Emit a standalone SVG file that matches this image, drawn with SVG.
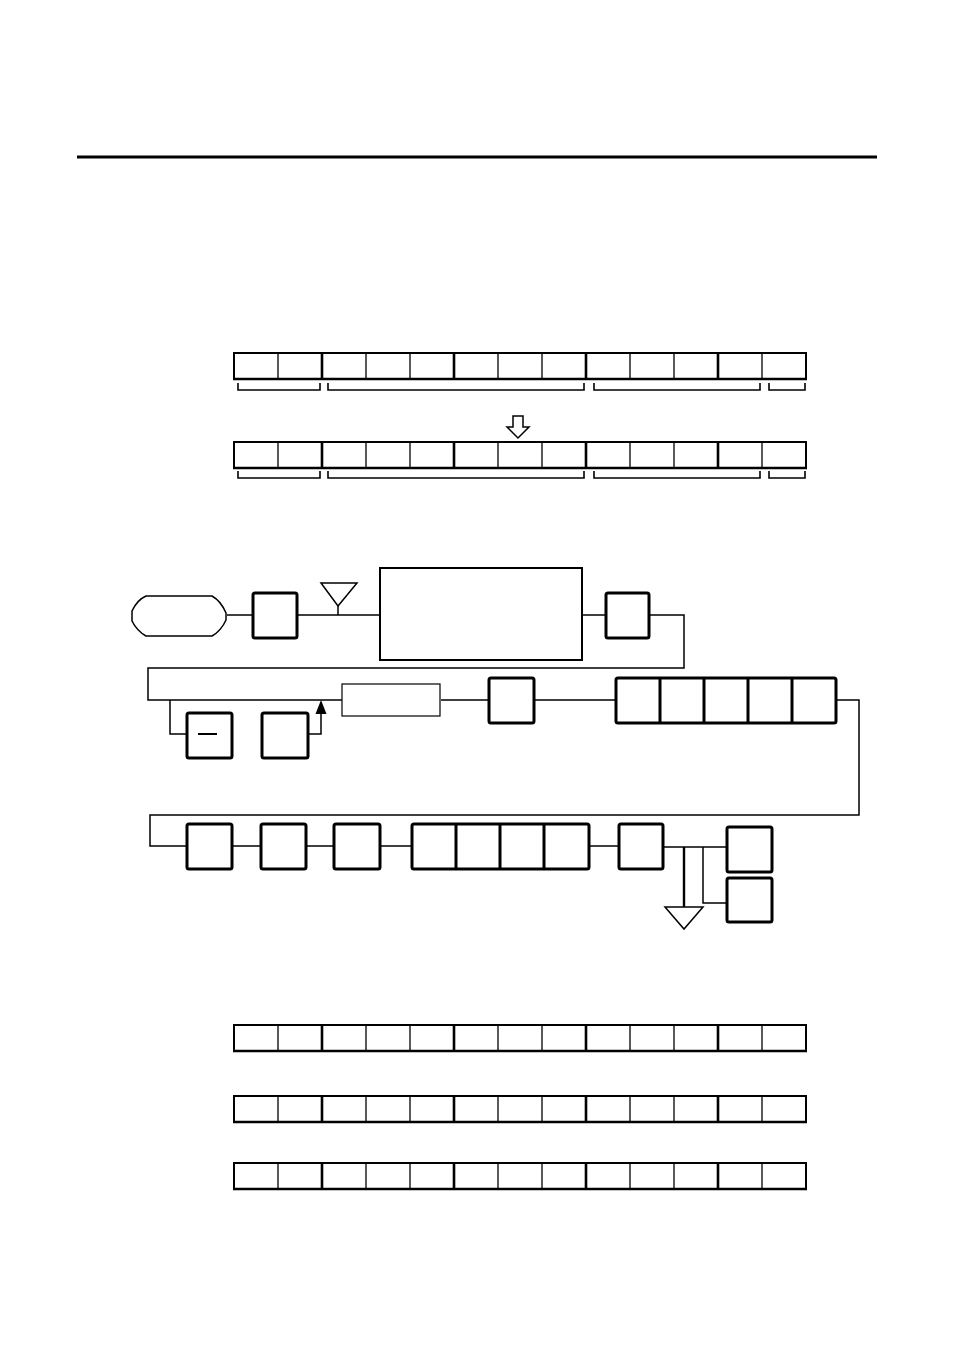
<svg xmlns="http://www.w3.org/2000/svg" width="954" height="1351" viewBox="0 0 954 1351">
<style>
.bg{fill:#fff}
.reg{fill:#fff;stroke:#000;stroke-width:2}
.thin{stroke:#000;stroke-width:1.3;fill:none}
.thick{stroke:#000;stroke-width:2.6;fill:none}
.brk{stroke:#000;stroke-width:1.6;fill:none}
.box{fill:#fff;stroke:#000;stroke-width:3}
.wire{stroke:#000;stroke-width:1.5;fill:none}
.hollow{fill:#fff;stroke:#000;stroke-width:1.5}
</style>
<defs>
<g id="row">
<rect class="reg" x="234" y="0" width="572" height="26"/>
<line class="thick" x1="233" y1="26" x2="807" y2="26"/>
<path class="thin" d="M278,0V26M366,0V26M410,0V26M498,0V26M542,0V26M630,0V26M674,0V26M762,0V26"/>
<path class="thick" d="M322,0V26M454,0V26M586,0V26M718,0V26"/>
</g>
<g id="brackets">
<path class="brk" d="M238,0V7H320V0M328,0V7H584V0M594,0V7H760V0M769,0V7H805V0"/>
</g>
<marker id="up" markerWidth="10" markerHeight="10" refX="5" refY="0" orient="auto" markerUnits="userSpaceOnUse" viewBox="0 0 10 10"/>
</defs>
<rect class="bg" width="954" height="1351"/>
<line id="rule" x1="77" y1="157" x2="877" y2="157" stroke="#000" stroke-width="3"/>

<g id="reg-top-1"><use href="#row" y="353"/><use href="#brackets" y="383"/></g>
<g id="shift-arrow"><path class="hollow" d="M513,416H523V427H529L518,438L507,427H513Z"/></g>
<g id="reg-top-2"><use href="#row" y="442"/><use href="#brackets" y="471"/></g>

<g id="connectors">
<path class="wire" d="M227,615H253M297,615H380M582,615H606"/>
<path class="wire" d="M649,615H684V668H148V700H342"/>
<path class="wire" d="M170,700V734H187"/>
<path class="wire" d="M308,734H321V713"/>
<path d="M315.5,714L321,700L326.5,714Z" fill="#000"/>
<path class="wire" d="M441,700H489M534,700H616"/>
<path class="wire" d="M836,700H859V815H150V846H187"/>
<path class="wire" d="M232,846H261M306,846H334M380,846H412M589,846H619"/>
<path class="wire" d="M663,847H727M703,847V903H727"/>
<path d="M684,847V907" stroke="#000" stroke-width="2.4"/>
<path class="wire" d="M338,606V615"/>
</g>

<g id="start"><path class="hollow" d="M146,596H212Q221,601 226,613V620Q221,631 212,636H146Q137,631 132,621V611Q137,600 146,596Z"/></g>
<g id="n1"><rect class="box" x="253" y="593" width="44" height="45" rx="2"/></g>
<g id="tri1"><path class="hollow" d="M321,583H357L338,606Z"/></g>
<g id="big"><rect class="reg" x="380" y="568" width="202" height="92"/></g>
<g id="n2"><rect class="box" x="606" y="593" width="43" height="45" rx="2"/></g>
<g id="minus"><rect class="box" x="187" y="713" width="45" height="45" rx="2"/><line x1="198" y1="734" x2="217" y2="734" stroke="#000" stroke-width="2"/></g>
<g id="n3"><rect class="box" x="262" y="713" width="46" height="45" rx="2"/></g>
<g id="thinrect"><rect x="342" y="684" width="98" height="32" fill="#fff" stroke="#000" stroke-width="1.2"/></g>
<g id="n4"><rect class="box" x="489" y="678" width="45" height="45" rx="2"/></g>
<g id="n5"><rect class="box" x="616" y="678" width="220" height="45" rx="2"/><path d="M660,678V723M704,678V723M748,678V723M792,678V723" stroke="#000" stroke-width="3"/></g>
<g id="n6"><rect class="box" x="187" y="824" width="45" height="45" rx="2"/></g>
<g id="n7"><rect class="box" x="261" y="824" width="45" height="45" rx="2"/></g>
<g id="n8"><rect class="box" x="334" y="824" width="46" height="45" rx="2"/></g>
<g id="n9"><rect class="box" x="412" y="824" width="177" height="45" rx="2"/><path d="M456,824V869M500,824V869M544,824V869" stroke="#000" stroke-width="3"/></g>
<g id="n10"><rect class="box" x="619" y="824" width="44" height="45" rx="2"/></g>
<g id="tri2"><path class="hollow" d="M665,907H703L684,929Z"/></g>
<g id="n11"><rect class="box" x="727" y="827" width="45" height="45" rx="2"/></g>
<g id="n12"><rect class="box" x="727" y="878" width="45" height="44" rx="2"/></g>

<g id="reg-bot-1"><use href="#row" y="1025"/></g>
<g id="reg-bot-2"><use href="#row" y="1096"/></g>
<g id="reg-bot-3"><use href="#row" y="1163"/></g>
</svg>
